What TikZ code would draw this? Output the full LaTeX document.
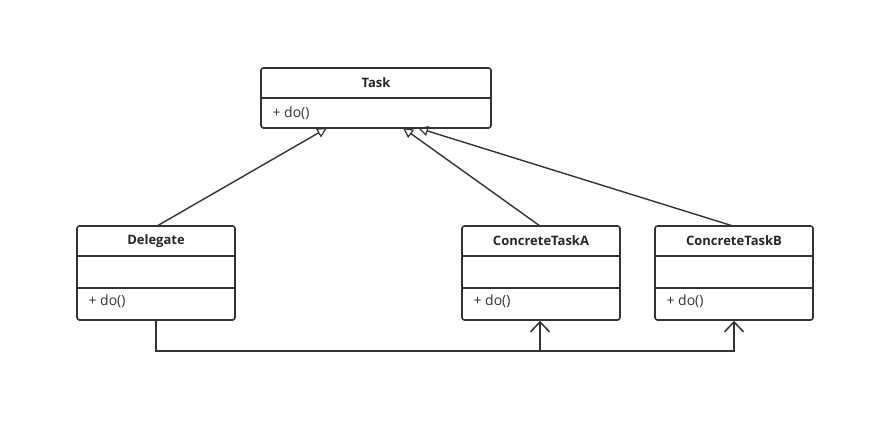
\documentclass[tikz,border=0pt]{standalone}
\usepackage{fontspec}
\setmainfont{Open Sans}
\usetikzlibrary{arrows.meta}

\tikzset{
  umlbox/.style={draw=black!80, line width=1.6pt, rounded corners=2.5pt, inner sep=0pt},
  umlname/.style={font=\bfseries\fontsize{13}{15}\selectfont, text=black!85},
  umlop/.style={font=\fontsize{14}{16}\selectfont, text=black!80, anchor=west},
  inherit/.style={draw=black!80, line width=1.4pt, -{Triangle[open, length=10pt, width=10pt, line width=1.2pt]}},
  assoc/.style={draw=black!80, line width=1.5pt, -{Straight Barb[length=10pt, width=19pt, line width=1.5pt]}}
}

\begin{document}
\begin{tikzpicture}[x=1pt,y=1pt]
\useasboundingbox (0,0) rectangle (877,-444);

% classes
\node[umlbox, minimum width=230pt, minimum height=60pt] (task) at (376,-98) {};
\node[umlbox, minimum width=158pt, minimum height=94pt] (del) at (156,-273) {};
\node[umlbox, minimum width=158pt, minimum height=94pt] (cta) at (541,-273) {};
\node[umlbox, minimum width=158pt, minimum height=94pt] (ctb) at (734,-273) {};

% compartments
\draw[black!80, line width=1.6pt] (task.west |- 0,-98) -- (task.east |- 0,-98);
\foreach \c in {del,cta,ctb}{
  \draw[black!80, line width=1.6pt] (\c.west |- 0,-256) -- (\c.east |- 0,-256);
  \draw[black!80, line width=1.6pt] (\c.west |- 0,-288) -- (\c.east |- 0,-288);
}

% names and operations
\node[umlname] (taskname) at (376,-83) {Task};
\node[umlop] (taskop) at (269,-113) {+ do()};
\node[umlname] (delname) at (156,-241) {Delegate};
\node[umlop] (delop) at (85,-301) {+ do()};
\node[umlname] (ctaname) at (541,-241) {ConcreteTaskA};
\node[umlop] (ctaop) at (470,-301) {+ do()};
\node[umlname] (ctbname) at (734,-241) {ConcreteTaskB};
\node[umlop] (ctbop) at (663,-301) {+ do()};

% generalisation
\coordinate (t1) at (327,-128);
\coordinate (t2) at (403,-128);
\coordinate (t3) at (418,-128);
\coordinate (d1) at (157,-226);
\coordinate (a1) at (540,-226);
\coordinate (b1) at (733,-226);
\draw[inherit] (d1) -- (t1);
\draw[inherit] (a1) -- (t2);
\draw[inherit] (b1) -- (t3);

% delegation
\coordinate (j) at (540,-350);
\draw[assoc] (del.south) -- ++(0,-30) -| (ctb.south);
\draw[assoc] (j) -- (j |- cta.south);
\end{tikzpicture}
\end{document}
